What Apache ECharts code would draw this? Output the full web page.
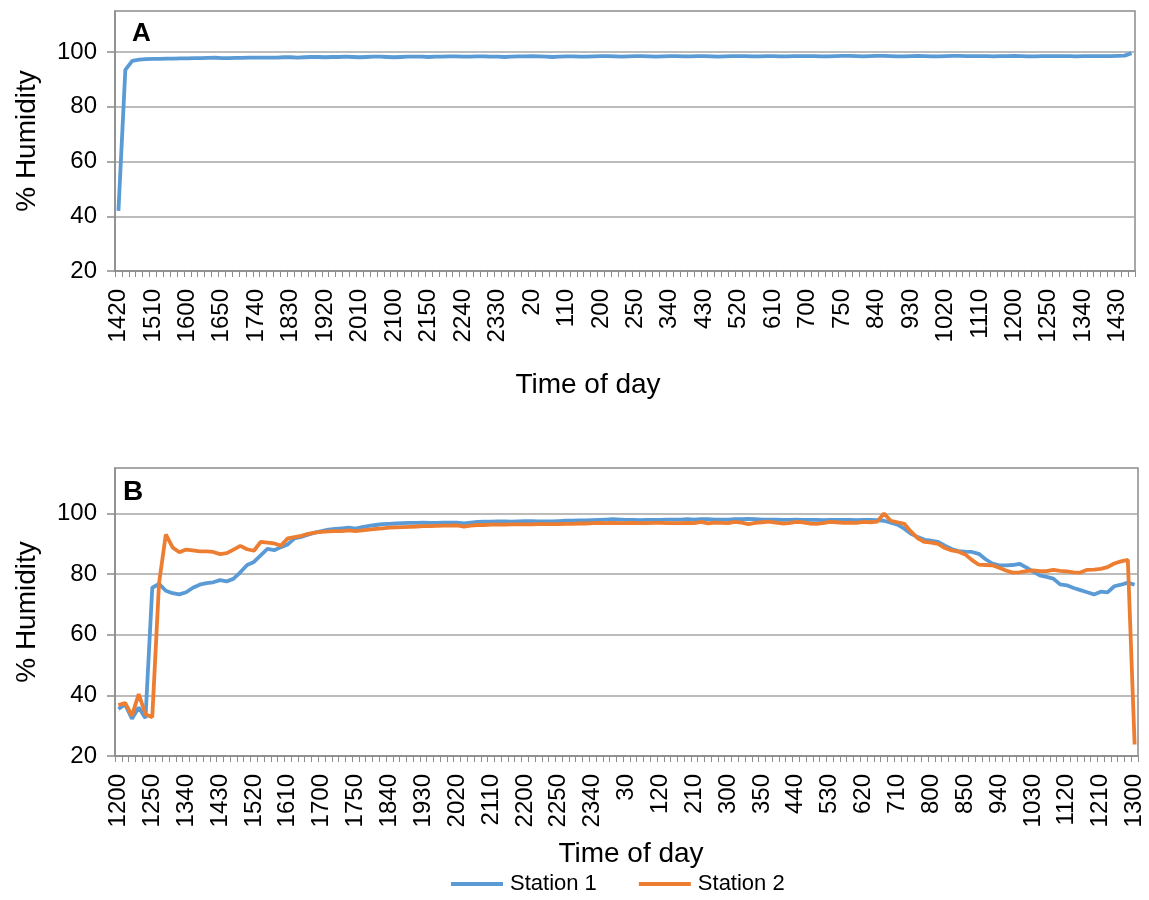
<!DOCTYPE html>
<html>
<head>
<meta charset="utf-8">
<script src="https://cdn.jsdelivr.net/npm/echarts@6/dist/echarts.min.js"></script>
<style>
html,body{margin:0;padding:0;background:#fff;}
#chart{width:1149px;height:900px;}
</style>
</head>
<body>
<div id="chart"></div>
<script>
// ---------- DATA ----------
// Panel A: 10-minute readings starting 14:20
var startA = 1420;
var humidityA = [
42.0, 93.5, 96.8, 97.2, 97.4, 97.5, 97.5, 97.6, 97.6, 97.7,
97.7, 97.8, 97.8, 97.9, 98.0, 97.8, 97.8, 97.9, 97.9, 98.0,
98.0, 98.0, 98.0, 98.0, 98.1, 98.1, 98.0, 98.1, 98.2, 98.2,
98.1, 98.2, 98.2, 98.3, 98.2, 98.1, 98.2, 98.3, 98.3, 98.2,
98.1, 98.2, 98.3, 98.3, 98.3, 98.2, 98.3, 98.3, 98.4, 98.4,
98.3, 98.3, 98.4, 98.4, 98.3, 98.3, 98.2, 98.3, 98.4, 98.4,
98.5, 98.4, 98.3, 98.2, 98.3, 98.4, 98.4, 98.3, 98.3, 98.4,
98.5, 98.5, 98.4, 98.3, 98.4, 98.5, 98.5, 98.4, 98.3, 98.4,
98.5, 98.5, 98.4, 98.4, 98.5, 98.5, 98.4, 98.3, 98.4, 98.5,
98.5, 98.5, 98.4, 98.4, 98.5, 98.5, 98.4, 98.4, 98.5, 98.5,
98.5, 98.5, 98.4, 98.4, 98.5, 98.6, 98.6, 98.5, 98.4, 98.5,
98.6, 98.6, 98.5, 98.4, 98.4, 98.5, 98.6, 98.5, 98.4, 98.4,
98.5, 98.6, 98.6, 98.5, 98.5, 98.5, 98.5, 98.4, 98.5, 98.5,
98.6, 98.5, 98.4, 98.4, 98.5, 98.5, 98.5, 98.5, 98.5, 98.4,
98.5, 98.5, 98.5, 98.5, 98.5, 98.6, 98.7, 99.6
];

// Panel B: 10-minute readings starting 12:00
var startB = 1200;
var station1 = [
35.5, 37.0, 32.3, 36.0, 32.5, 75.5, 76.8, 74.5, 73.7, 73.3,
74.0, 75.5, 76.5, 77.0, 77.3, 78.0, 77.6, 78.5, 80.6, 83.0,
84.0, 86.2, 88.3, 87.9, 88.9, 89.8, 91.8, 92.3, 93.0, 93.7,
94.2, 94.7, 94.9, 95.1, 95.3, 95.0, 95.5, 95.9, 96.2, 96.5,
96.6, 96.7, 96.8, 96.9, 96.9, 97.0, 96.9, 96.9, 97.0, 97.0,
97.0, 96.7, 97.0, 97.2, 97.3, 97.3, 97.4, 97.4, 97.3, 97.4,
97.5, 97.5, 97.4, 97.4, 97.4, 97.5, 97.6, 97.6, 97.7, 97.7,
97.8, 97.9, 98.0, 98.1, 98.0, 97.9, 97.9, 97.8, 97.9, 97.9,
97.9, 98.0, 98.0, 98.0, 98.1, 98.0, 98.1, 98.1, 98.0, 98.0,
98.0, 98.1, 98.1, 98.2, 98.1, 98.0, 98.0, 98.0, 97.9, 97.9,
98.0, 97.9, 97.9, 97.9, 97.8, 97.9, 97.9, 97.9, 97.9, 97.8,
97.9, 97.9, 97.8, 97.6, 97.0, 96.3, 95.0, 93.3, 92.2, 91.3,
91.0, 90.6, 89.4, 88.3, 87.6, 87.4, 87.3, 86.7, 84.9, 83.5,
82.9, 82.9, 83.0, 83.4, 82.2, 80.8, 79.6, 79.1, 78.5, 76.6,
76.3, 75.4, 74.7, 74.0, 73.3, 74.2, 74.0, 76.0, 76.5, 77.2,
76.5
];
var station2 = [
36.8, 37.5, 33.3, 40.4, 33.8, 32.8, 77.0, 93.1, 88.8, 87.2,
88.1, 87.8, 87.5, 87.5, 87.3, 86.6, 86.9, 88.1, 89.3, 88.2,
87.7, 90.6, 90.4, 90.1, 89.4, 91.8, 92.2, 92.6, 93.3, 93.7,
93.9, 94.1, 94.2, 94.2, 94.4, 94.2, 94.4, 94.7, 94.9, 95.1,
95.3, 95.4, 95.5, 95.6, 95.7, 95.8, 95.8, 95.9, 96.0, 96.0,
96.1, 95.7, 96.0, 96.2, 96.2, 96.3, 96.3, 96.3, 96.4, 96.4,
96.4, 96.4, 96.5, 96.5, 96.5, 96.5, 96.6, 96.6, 96.7, 96.7,
96.8, 96.9, 96.8, 96.9, 96.8, 96.8, 96.9, 96.8, 96.8, 96.9,
96.9, 96.8, 96.8, 96.8, 96.9, 96.8, 97.2, 96.7, 97.0, 96.9,
96.8, 97.2, 97.0, 96.5, 96.9, 97.1, 97.3, 97.0, 96.7, 96.8,
97.2, 97.1, 96.7, 96.6, 96.8, 97.2, 97.1, 96.9, 97.0, 96.9,
97.2, 97.1, 97.3, 100.0, 97.6, 97.1, 96.6, 94.0, 91.8, 90.6,
90.4, 90.0, 88.6, 87.8, 87.4, 86.5, 84.6, 83.1, 83.0, 82.9,
82.1, 81.2, 80.5, 80.6, 81.0, 81.2, 81.0, 81.0, 81.4, 81.1,
80.9, 80.6, 80.5, 81.4, 81.5, 81.7, 82.3, 83.5, 84.2, 84.7,
23.8
];

var yTicks = [20, 40, 60, 80, 100];
var seriesNames = ['Station 1', 'Station 2'];
var xTitle = 'Time of day';
var yTitle = '% Humidity';

// Time-of-day category labels (HHMM without leading zeros), 10-minute steps
function timeLabels(start, n) {
  var h = Math.floor(start / 100), m = start % 100, out = [];
  for (var i = 0; i < n; i++) {
    out.push(String(h * 100 + m));
    m += 10;
    if (m >= 60) { m -= 60; h = (h + 1) % 24; }
  }
  return out;
}
var catsA = timeLabels(startA, humidityA.length);
var catsB = timeLabels(startB, station1.length);

// ---------- CHART ----------
var FONT = '"Liberation Sans", Arial, sans-serif';
var GRAY = '#8c8c8c';
var BLUE = '#5B9BD5';
var ORANGE = '#ED7D31';

function xAxisDef(gridIndex, cats) {
  return {
    type: 'category', gridIndex: gridIndex, data: cats, boundaryGap: true,
    axisLine: { lineStyle: { color: GRAY, width: 1.5 } },
    axisTick: { show: true, interval: 0, length: 6, lineStyle: { color: GRAY, width: 1 } },
    axisLabel: { interval: 4, rotate: 90, fontSize: 24, fontFamily: FONT, color: '#000', margin: 18 },
    splitLine: { show: false }
  };
}
function yAxisDef(gridIndex) {
  return {
    type: 'value', gridIndex: gridIndex, min: 20, max: 115, interval: 20,
    axisLine: { show: true, lineStyle: { color: GRAY, width: 1.5 } },
    axisTick: { show: true, length: 8, customValues: yTicks, lineStyle: { color: GRAY, width: 1.5 } },
    axisLabel: { fontSize: 24, fontFamily: FONT, color: '#000', margin: 18, customValues: yTicks },
    splitLine: { show: true, lineStyle: { color: '#a6a6a6', width: 1.5 } }
  };
}

var chart = echarts.init(document.getElementById('chart'), null, { renderer: 'canvas' });
chart.setOption({
  animation: false,
  backgroundColor: '#fff',
  textStyle: { fontFamily: FONT },
  grid: [
    { left: 115, top: 11, width: 1020, height: 260, show: true, borderColor: GRAY, borderWidth: 1.5, backgroundColor: 'transparent' },
    { left: 115, top: 468, width: 1023, height: 288, show: true, borderColor: GRAY, borderWidth: 1.5, backgroundColor: 'transparent' }
  ],
  xAxis: [xAxisDef(0, catsA), xAxisDef(1, catsB)],
  yAxis: [yAxisDef(0), yAxisDef(1)],
  legend: {
    data: seriesNames, left: 451, top: 873, padding: 0, icon: 'rect', itemWidth: 52, itemHeight: 4,
    itemGap: 42, textStyle: { fontSize: 22, fontFamily: FONT, color: '#000', padding: [0, 0, 0, 2] }
  },
  series: [
    { name: 'A', type: 'line', xAxisIndex: 0, yAxisIndex: 0, data: humidityA, symbol: 'none',
      lineStyle: { color: BLUE, width: 3.8 }, itemStyle: { color: BLUE } },
    { name: seriesNames[0], type: 'line', xAxisIndex: 1, yAxisIndex: 1, data: station1, symbol: 'none',
      lineStyle: { color: BLUE, width: 3.8 }, itemStyle: { color: BLUE } },
    { name: seriesNames[1], type: 'line', xAxisIndex: 1, yAxisIndex: 1, data: station2, symbol: 'none',
      lineStyle: { color: ORANGE, width: 3.8 }, itemStyle: { color: ORANGE } }
  ],
  graphic: [
    { type: 'text', left: 132, top: 21, style: { text: 'A', font: 'bold 26px ' + FONT, fill: '#000' } },
    { type: 'text', left: 123, top: 478, style: { text: 'B', font: 'bold 28px ' + FONT, fill: '#000' } },
    { type: 'text', x: 588, y: 385, style: { text: xTitle, font: '28px ' + FONT, fill: '#000', align: 'center', verticalAlign: 'middle' } },
    { type: 'text', x: 631, y: 854, style: { text: xTitle, font: '28px ' + FONT, fill: '#000', align: 'center', verticalAlign: 'middle' } },
    { type: 'text', x: 27, y: 141, rotation: Math.PI / 2, style: { text: yTitle, font: '28px ' + FONT, fill: '#000', align: 'center', verticalAlign: 'middle' } },
    { type: 'text', x: 27, y: 612, rotation: Math.PI / 2, style: { text: yTitle, font: '28px ' + FONT, fill: '#000', align: 'center', verticalAlign: 'middle' } }
  ]
});
</script>
</body>
</html>
